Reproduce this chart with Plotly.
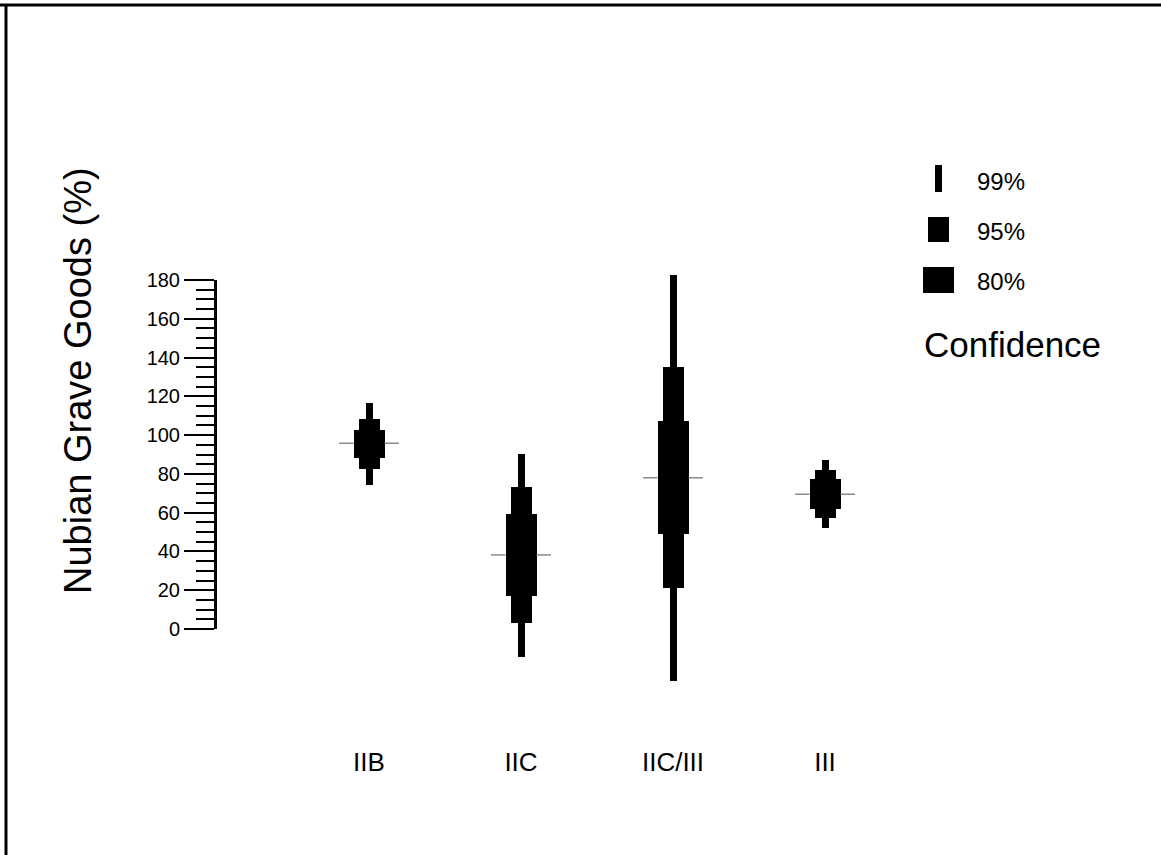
import plotly.graph_objects as go

# ---------------- data ----------------
categories = ["IIB", "IIC", "IIC/III", "III"]
means = [95.8, 38.2, 78.0, 69.5]
ci99_low = [74.3, -14.3, -26.6, 51.9]
ci99_high = [116.7, 90.3, 182.6, 87.2]
ci95_low = [82.5, 2.9, 21.0, 57.1]
ci95_high = [108.1, 73.4, 135.0, 82.0]
ci80_low = [88.3, 17.0, 48.8, 61.7]
ci80_high = [102.6, 59.3, 107.4, 77.4]
y_tick_values = [0, 20, 40, 60, 80, 100, 120, 140, 160, 180]
legend_labels = ["99%", "95%", "80%"]
legend_title = "Confidence"
y_title = "Nubian Grave Goods (%)"

# ---------------- layout geometry (pixels) ----------------
W, H = 1161, 855
ML, MR, MT, MB = 217, 62, 241, 148
plot_w = W - ML - MR
plot_h = H - MT - MB
px_per_x = 152.0
px_per_y = 349.0 / 180.0
y_zero_px = 629.0
bottom_px = H - MB

x_range = [-1.0, -1.0 + plot_w / px_per_x]
y_range = [(y_zero_px - bottom_px) / px_per_y, (y_zero_px - MT) / px_per_y]
axis_min, axis_max = 0, 180
dom0 = (bottom_px - (y_zero_px - axis_min * px_per_y)) / plot_h
dom1 = (bottom_px - (y_zero_px - axis_max * px_per_y)) / plot_h

w99, w95, w80 = 7 / px_per_x, 21 / px_per_x, 31 / px_per_x
mean_half = 30 / px_per_x

FONT = "Liberation Sans, Arial, sans-serif"

def px2paper_x(px):
    return (px - ML) / plot_w

def px2paper_y(py):
    return (bottom_px - py) / plot_h

xs = list(range(len(categories)))

fig = go.Figure()

# mean lines (drawn only outside the 80% box)
mx, my = [], []
for i, m in enumerate(means):
    mx += [i - mean_half, i - w80 / 2, None, i + w80 / 2, i + mean_half, None]
    my += [m, m, None, m, m, None]
fig.add_trace(go.Scatter(x=mx, y=my, mode="lines",
                         line=dict(color="#8a8a8a", width=1.5),
                         hoverinfo="skip", showlegend=False))

for lo, hi, w, name in [(ci99_low, ci99_high, w99, "99%"),
                        (ci95_low, ci95_high, w95, "95%"),
                        (ci80_low, ci80_high, w80, "80%")]:
    fig.add_trace(go.Bar(
        x=xs, base=lo, y=[h - l for l, h in zip(lo, hi)],
        width=[w] * len(xs), marker=dict(color="black", line=dict(width=0)),
        name=name, showlegend=False))

# invisible trace for the decorative scale axis
fig.add_trace(go.Scatter(x=[None], y=[None], xaxis="x2", yaxis="y2",
                         showlegend=False, hoverinfo="skip"))

fig.update_layout(
    width=W, height=H, autosize=False,
    margin=dict(l=ML, r=MR, t=MT, b=MB),
    paper_bgcolor="white", plot_bgcolor="rgba(0,0,0,0)",
    barmode="overlay", bargap=0,
    font=dict(family=FONT, color="black"),
    xaxis=dict(range=x_range, tickmode="array", tickvals=xs, ticktext=categories,
               showline=False, showgrid=False, zeroline=False, ticks="",
               tickfont=dict(size=26, family=FONT), ticklabelstandoff=37),
    yaxis=dict(range=y_range, visible=False, showgrid=False, zeroline=False),
    xaxis2=dict(range=x_range, visible=False, anchor="y2", domain=[0, 1]),
    yaxis2=dict(range=[axis_min, axis_max], domain=[dom0, dom1], anchor="x2",
                side="left", showline=True, linecolor="black", linewidth=3,
                showgrid=False, zeroline=False,
                tickmode="array", tickvals=y_tick_values,
                ticks="outside", ticklen=30, tickwidth=2, tickcolor="black",
                tickfont=dict(size=20, family=FONT),
                minor=dict(dtick=5, ticks="outside", ticklen=18, tickwidth=2,
                           tickcolor="black", showgrid=False)),
    showlegend=False,
)

# border (top and left)
fig.add_shape(type="line", xref="paper", yref="paper",
              x0=px2paper_x(0), x1=px2paper_x(W), y0=px2paper_y(5), y1=px2paper_y(5),
              line=dict(color="black", width=3))
fig.add_shape(type="line", xref="paper", yref="paper",
              x0=px2paper_x(6), x1=px2paper_x(6), y0=px2paper_y(4), y1=px2paper_y(H),
              line=dict(color="black", width=3))

# custom legend
legend_boxes = [(935, 942, 165, 192), (928, 949, 217, 242), (923, 954, 267, 293)]
legend_text_y = [181, 232, 281]
for (x0, x1, y0, y1), lab, ty in zip(legend_boxes, legend_labels, legend_text_y):
    fig.add_shape(type="rect", xref="paper", yref="paper",
                  x0=px2paper_x(x0), x1=px2paper_x(x1),
                  y0=px2paper_y(y1), y1=px2paper_y(y0),
                  fillcolor="black", line=dict(width=0))
    fig.add_annotation(text=lab, xref="paper", yref="paper",
                       x=px2paper_x(975), y=px2paper_y(ty),
                       xanchor="left", yanchor="middle", showarrow=False,
                       font=dict(size=24, family=FONT, color="black"))
fig.add_annotation(text=legend_title, xref="paper", yref="paper",
                   x=px2paper_x(922), y=px2paper_y(344),
                   xanchor="left", yanchor="middle", showarrow=False,
                   font=dict(size=35, family=FONT, color="black"))

# y-axis title
fig.add_annotation(text=y_title, xref="paper", yref="paper",
                   x=px2paper_x(78), y=px2paper_y(381), textangle=-90,
                   xanchor="center", yanchor="middle", showarrow=False,
                   font=dict(size=38, family=FONT, color="black"))

fig.write_html("out.html",
               config={"displayModeBar": False},
               post_script="document.body.style.margin='0px';document.body.style.overflow='hidden';")
